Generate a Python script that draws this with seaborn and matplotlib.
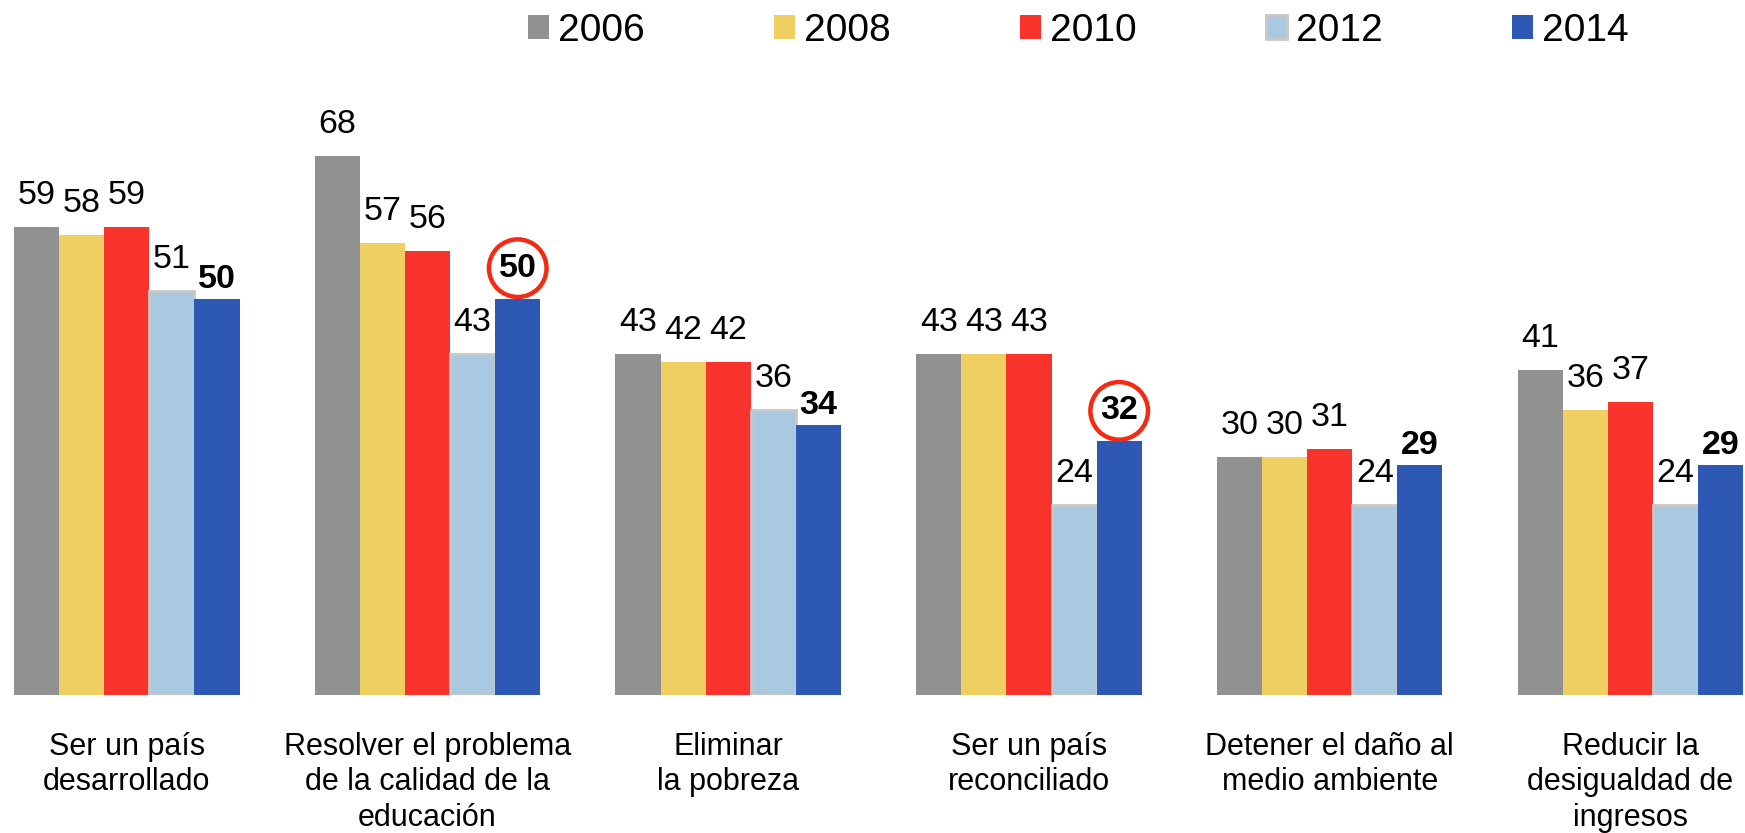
import matplotlib
matplotlib.use('Agg')
import matplotlib.pyplot as plt
from matplotlib.patches import Patch
import seaborn as sns
import pandas as pd

categorias = ['Ser un país\ndesarrollado',
              'Resolver el problema\nde la calidad de la\neducación',
              'Eliminar\nla pobreza',
              'Ser un país\nreconciliado',
              'Detener el daño al\nmedio ambiente',
              'Reducir la\ndesigualdad de\ningresos']
anios = ['2006', '2008', '2010', '2012', '2014']
v2006 = [59, 68, 43, 43, 30, 41]
v2008 = [58, 57, 42, 43, 30, 36]
v2010 = [59, 56, 42, 43, 31, 37]
v2012 = [51, 43, 36, 24, 24, 24]
v2014 = [50, 50, 34, 32, 29, 29]
circulados = [1, 3]  # grupos con el valor 2014 encerrado en circulo

colores = ['#919191', '#EFCF62', '#F8332B', '#A9C9E0', '#2D58B3']

serie = {'2006': v2006, '2008': v2008, '2010': v2010, '2012': v2012, '2014': v2014}
filas = []
for a in anios:
    for c, v in zip(categorias, serie[a]):
        filas.append((c, a, v))
df = pd.DataFrame(filas, columns=['categoria', 'anio', 'valor'])

sns.set_style('white')
plt.rcParams['font.family'] = ['Liberation Sans', 'DejaVu Sans']
plt.rcParams['text.color'] = 'black'
plt.rcParams['xtick.color'] = 'black'

fig = plt.figure(figsize=(17.45, 8.33), dpi=100)
ax = fig.add_axes([0, 0.1657, 1, 0.7613])

sns.barplot(data=df, x='categoria', y='valor', hue='anio', hue_order=anios,
            palette=colores, width=0.75, saturation=1, legend=False, ax=ax)

for i, a in enumerate(anios):
    for bar in ax.containers[i]:
        if a == '2012':
            bar.set_edgecolor('#c8c8c8')
            bar.set_linewidth(2)
        else:
            bar.set_linewidth(0)

for i, a in enumerate(anios):
    for j, bar in enumerate(ax.containers[i]):
        v = serie[a][j]
        x = bar.get_x() + bar.get_width() / 2
        if a == '2014':
            kw = dict(fontweight='bold', xytext=(0, 8))
            if j in circulados:
                kw['xytext'] = (0, 15.8)
                kw['bbox'] = dict(boxstyle='circle,pad=0.29', fc='none',
                                  ec='#F42A12', lw=3.2)
        else:
            kw = dict(xytext=(0, 16.5))
        ax.annotate(str(v), (x, v), textcoords='offset points', ha='center',
                    va='baseline', fontsize=24.5, color='black', **kw)

ax.set_xlim(-0.4216, 5.381)
ax.set_ylim(0, 80)
ax.set_xlabel('')
ax.set_ylabel('')
ax.set_yticks([])
ax.tick_params(axis='x', length=0, pad=26.5, labelsize=22)
for t in ax.get_xticklabels():
    t.set_linespacing(1.24)
    t.set_va('top')
sns.despine(ax=ax, left=True, bottom=True)

handles = [Patch(facecolor=c, edgecolor=('#c8c8c8' if a == '2012' else c),
                 lw=(2 if a == '2012' else 0), label=a)
           for a, c in zip(anios, colores)]
fig.legend(handles=handles, loc='center', bbox_to_anchor=(0.618, 0.963), ncol=5,
           frameon=False, fontsize=28, handlelength=0.54, handleheight=0.54,
           handletextpad=0.23, columnspacing=3.33)

fig.savefig('out.png', dpi=100)
